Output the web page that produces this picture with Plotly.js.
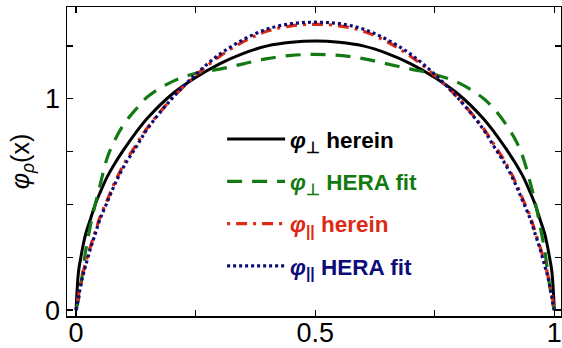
<!DOCTYPE html>
<html><head><meta charset="utf-8">
<script src="https://cdn.plot.ly/plotly-3.0.1.min.js"></script>
<style>html,body{margin:0;padding:0;background:#fff}</style>
</head><body><div id="chart" style="width:562px;height:348px"></div>
<script>
// momentum fraction x
const xVals = [0, 0.005, 0.01, 0.015, 0.02, 0.03, 0.04, 0.05, 0.065, 0.08, 0.1, 0.125, 0.15, 0.2, 0.25, 0.3, 0.35, 0.4, 0.45, 0.5,
               0.55, 0.6, 0.65, 0.7, 0.75, 0.8, 0.85, 0.875, 0.9, 0.92, 0.935, 0.95, 0.96, 0.97, 0.98, 0.985, 0.99, 0.995, 1];
// phi_perp herein (black solid)
const perpHerein = [0, 0.18, 0.25, 0.31, 0.36, 0.43, 0.50, 0.555, 0.63, 0.69, 0.76, 0.84, 0.91, 1.02, 1.10, 1.165, 1.215, 1.25, 1.267, 1.273,
                    1.267, 1.25, 1.215, 1.165, 1.10, 1.02, 0.91, 0.84, 0.76, 0.69, 0.63, 0.555, 0.50, 0.43, 0.36, 0.31, 0.25, 0.18, 0];
// phi_perp HERA fit (green dashed)
const perpHera = [0, 0.05, 0.12, 0.20, 0.28, 0.40, 0.50, 0.59, 0.72, 0.80, 0.88, 0.95, 1.01, 1.08, 1.12, 1.14, 1.165, 1.19, 1.205, 1.21,
                  1.205, 1.19, 1.165, 1.14, 1.115, 1.075, 1.005, 0.95, 0.875, 0.80, 0.72, 0.60, 0.51, 0.40, 0.28, 0.20, 0.12, 0.05, 0];
// phi_par herein (red dash-dot)
const parHerein = [0, 0.07, 0.13, 0.18, 0.225, 0.30, 0.37, 0.44, 0.52, 0.60, 0.69, 0.78, 0.865, 1.00, 1.11, 1.20, 1.27, 1.32, 1.345, 1.352,
                   1.345, 1.32, 1.27, 1.20, 1.11, 1.00, 0.865, 0.78, 0.69, 0.60, 0.52, 0.44, 0.37, 0.30, 0.225, 0.18, 0.13, 0.07, 0];
// phi_par HERA fit (blue dotted)
const parHera = [0, 0.06, 0.12, 0.17, 0.21, 0.29, 0.36, 0.43, 0.51, 0.59, 0.68, 0.77, 0.86, 1.00, 1.115, 1.21, 1.28, 1.33, 1.355, 1.362,
                 1.355, 1.33, 1.28, 1.21, 1.115, 1.00, 0.86, 0.77, 0.68, 0.59, 0.51, 0.43, 0.36, 0.29, 0.21, 0.17, 0.12, 0.06, 0];

const names = [
  '<b><i>φ</i><sub>⊥</sub> herein</b>',
  '<span style="color:#137a13"><b><i>φ</i><sub>⊥</sub> HERA fit</b></span>',
  '<span style="color:#dc2a14"><b><i>φ</i><sub>||</sub> herein</b></span>',
  '<span style="color:#0c0c78"><b><i>φ</i><sub>||</sub> HERA fit</b></span>'
];

const traces = [
  {x: xVals, y: perpHerein, name: names[0], legendgroup: 'a', line: {color: '#000000', width: 3, shape: 'spline'}},
  {x: xVals, y: perpHera, name: names[1], legendgroup: 'b', line: {color: '#137a13', width: 3.2, dash: '15px,10px', shape: 'spline'}},
  {x: xVals, y: parHerein, name: names[2], legendgroup: 'c', line: {color: '#dc2a14', width: 3.2, dash: '3px,6px,11px,6px', shape: 'spline'}},
  {x: xVals, y: parHera, name: names[3], legendgroup: 'd', line: {color: '#0c0c78', width: 3.2, dash: '3px,3px', shape: 'spline'}}
].map(t => Object.assign({type: 'scatter', mode: 'lines', hoverinfo: 'skip'}, t));

const axisCommon = {
  showline: true, linecolor: '#000', linewidth: 1.5, mirror: 'allticks',
  ticks: 'inside', ticklen: 6, tickwidth: 1.3, tickcolor: '#000',
  zeroline: false, showgrid: false, automargin: false,
  tickfont: {family: 'Liberation Sans, Arial, sans-serif', size: 27, color: '#000'}
};

const layout = {
  width: 562, height: 348,
  margin: {l: 67, r: 1, t: 7, b: 32},
  paper_bgcolor: '#fff', plot_bgcolor: '#fff',
  font: {family: 'Liberation Sans, Arial, sans-serif', color: '#000'},
  showlegend: true,
  legend: {
    x: 0.314, y: 0.641, xanchor: 'left', yanchor: 'top',
    bgcolor: 'rgba(0,0,0,0)', borderwidth: 0,
    font: {family: 'Liberation Sans, Arial, sans-serif', size: 22.5, color: '#000'},
    tracegroupgap: 10, itemwidth: 58
  },
  xaxis: Object.assign({}, axisCommon, {
    range: [-0.019, 1.014],
    tickvals: [0, 0.5, 1], ticktext: ['0', '0.5', '1'],
    ticklabelstandoff: -8,
    minor: {tickvals: [0.25, 0.75], ticks: 'inside', ticklen: 6, tickwidth: 1.3, tickcolor: '#000'}
  }),
  yaxis: Object.assign({}, axisCommon, {
    range: [-0.028, 1.434],
    tickvals: [0, 1], ticktext: ['0', '1'],
    minor: {tickvals: [0.25, 0.5, 0.75, 1.25], ticks: 'inside', ticklen: 6, tickwidth: 1.3, tickcolor: '#000'},
    title: {text: '<i>φ</i><sub><i>ρ</i></sub>(x)', standoff: 8,
            font: {family: 'Liberation Sans, Arial, sans-serif', size: 25, color: '#000'}}
  })
};

Plotly.newPlot('chart', traces, layout, {staticPlot: true, displayModeBar: false});
</script>
</body></html>
